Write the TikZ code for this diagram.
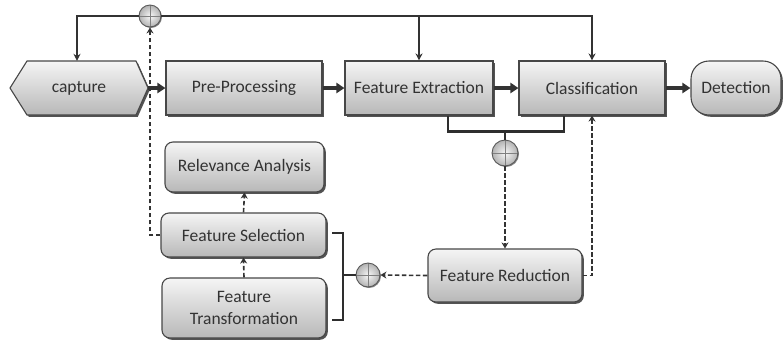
\documentclass[tikz,border=0pt]{standalone}
\usepackage{fontspec}
\setmainfont{Carlito}
\usetikzlibrary{shadows,arrows.meta}
\begin{document}
\begin{tikzpicture}[x=1pt,y=-1pt,
  font=\fontsize{17.5}{22}\selectfont, text=black!80,
  boxfill/.style={draw=black!72, line width=1.1pt, top color=black!4, bottom color=black!28,
    drop shadow={shadow xshift=1.8pt,shadow yshift=-1.8pt,fill=black!75,opacity=0.9}},
  mainbox/.style={boxfill, minimum height=54pt, inner sep=0pt},
  subbox/.style={boxfill, rounded corners=8pt, inner sep=0pt},
  sumc/.style={circle, draw=black!65, line width=0.9pt, inner color=black!3, outer color=black!30,
    inner sep=0pt, minimum size=#1,
    drop shadow={shadow xshift=1pt,shadow yshift=-1pt,fill=black!60,opacity=0.8},
    path picture={\draw[black!50, line width=0.6pt] (path picture bounding box.north) -- (path picture bounding box.south) (path picture bounding box.west) -- (path picture bounding box.east);}},
  sumc/.default=22pt,
  flow/.style={line width=3.5pt, black!80, -{Triangle[length=8pt,width=10pt]}},
  fb/.style={line width=1.4pt, black!80, -{Stealth[length=7pt,width=7pt]}},
  dsh/.style={line width=1.6pt, black!80, dash pattern=on 4.5pt off 2.5pt, -{Stealth[length=6pt,width=7pt]}},
  brk/.style={line width=2.8pt, black!82}]
\useasboundingbox (0,0) rectangle (784,341);

% capture hexagon
\path[boxfill] (10,88) -- (27,61) -- (136,61) -- (148,88) -- (136,115) -- (27,115) -- cycle;
\node[minimum width=138pt, minimum height=54pt, inner sep=0pt] (cap) at (79,88) {capture};

\node[mainbox, minimum width=156pt] (pre) at (244,88) {Pre-Processing};
\node[mainbox, minimum width=148pt] (fe) at (419,88) {Feature Extraction};
\node[mainbox, minimum width=146pt] (cls) at (592,88) {Classification};
\node[mainbox, minimum width=90pt, rounded corners=18pt] (det) at (736,88) {Detection};

\node[subbox, minimum width=159pt, minimum height=50pt] (ra) at (244.5,167) {Relevance Analysis};
\node[subbox, minimum width=165pt, minimum height=44pt] (fs) at (243.5,235) {Feature Selection};
\node[subbox, minimum width=164pt, minimum height=60pt, align=center] (ft) at (244,308) {Feature\\Transformation};
\node[subbox, minimum width=154pt, minimum height=53pt] (fr) at (505,275.5) {Feature Reduction};

\node[sumc=22pt] (sTop) at (150,16) {};
\node[sumc=26pt] (sMid) at (505,153) {};
\node[sumc=24pt] (sL) at (368,275) {};

% main flow
\draw[flow] (cap.east) -- (pre.west);
\draw[flow] (pre.east) -- (fe.west);
\draw[flow] (fe.east) -- (cls.west);
\draw[flow] (cls.east) -- (det.west);

% top feedback line
\coordinate (tl) at (77,16);
\draw[fb] (sTop.west) -- (tl) -- (tl |- cap.north);
\draw[fb] (sTop.east) -| (cls.north);
\draw[fb] (sTop.east -| fe.north) -- (fe.north);

% dashed from feature selection to top sum
\draw[dsh] (fs.west) -| (sTop.south);

% bottom bracket
\draw[brk] ([xshift=29pt]fe.south) -- ++(0,16) -| ([xshift=-28pt]cls.south);
\draw[brk] (sMid.north) -- ++(0,-9);
\draw[dsh] (sMid.south) -- (fr.north);
\draw[dsh] (fr.east) -| (cls.south);
\draw[dsh] (fr.west) -- (sL.east);

% left bracket
\coordinate (b1) at (332,233);
\coordinate (b2) at (343,233);
\coordinate (b3) at (343,320);
\coordinate (b4) at (332,320);
\draw[brk] (b1) -- (b2) -- (b3) -- (b4);
\draw[brk] (sL.west) -- (sL.west -| b2);

\draw[dsh] (fs.north) -- (ra.south);
\draw[dsh] (ft.north) -- (fs.south);
\end{tikzpicture}
\end{document}
